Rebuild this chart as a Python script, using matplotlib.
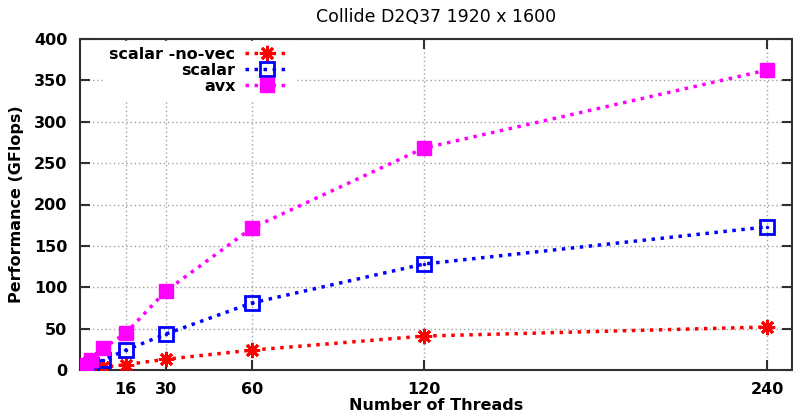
import numpy as np
import matplotlib
matplotlib.use('Agg')
import matplotlib.pyplot as plt

threads = [1, 2, 4, 8, 16, 30, 60, 120, 240]
novec = [0.4, 0.8, 1.7, 3.3, 6.5, 13, 24, 41, 52]
scalar = [1.5, 3, 6, 12, 24, 43.5, 81, 128, 173]
avx = [3, 6, 12, 26, 44.5, 95.5, 171.5, 268, 362.5]
xticks = [16, 30, 60, 120, 240]
yticks = [0, 50, 100, 150, 200, 250, 300, 350, 400]

fig = plt.figure(figsize=(7.93, 4.16), dpi=100)
ax = fig.add_axes([80 / 793, 1 - 370 / 416, 712 / 793, 331 / 416])

dots = (0, (1, 1.6))
ax.plot(threads, novec, color='red', ls=dots, lw=2.5, marker=(8, 2, 0),
        ms=11, mew=2, label='scalar -no-vec', zorder=3)
ax.plot(threads, scalar, color='blue', ls=dots, lw=2.5, marker='s', ms=10,
        mfc='none', mew=2, label='scalar', zorder=3)
ax.plot(threads, scalar, color='blue', ls='none', marker='.', ms=3, zorder=3)
ax.plot(threads, avx, color='magenta', ls=dots, lw=2.5, marker='s', ms=10,
        label='avx', zorder=3)

ax.set_xlim(0, 248.7)
ax.set_ylim(0, 400)
ax.set_xticks(xticks)
ax.set_yticks(yticks)
ax.tick_params(direction='in', length=7, width=1.5, top=True, right=True,
               labelsize=11.5, pad=9, colors='#303030', labelcolor='black')
for lab in ax.get_xticklabels() + ax.get_yticklabels():
    lab.set_fontweight('bold')
ax.grid(True, color='#a0a0a0', ls=(0, (1, 2)), lw=1)
for s in ax.spines.values():
    s.set_linewidth(1.5)
    s.set_color('#303030')

ax.set_xlabel('Number of Threads', fontsize=11.5, fontweight='bold', labelpad=0)
ax.set_ylabel('Performance (GFlops)', fontsize=11.5, fontweight='bold', labelpad=7)
ax.set_title('Collide D2Q37 1920 x 1600', fontsize=12.5, pad=12)

leg = ax.legend(loc='upper left', markerfirst=False, frameon=True,
                fontsize=11.5, handlelength=2.8, handletextpad=0.6,
                labelspacing=0.05, borderpad=0.4, borderaxespad=0.1,
                bbox_to_anchor=(0.03, 1.0))
leg.get_frame().set_edgecolor('white')
leg.get_frame().set_facecolor('white')
leg.get_frame().set_alpha(1)
leg.get_frame().set_boxstyle('square', pad=0)
for t in leg.get_texts():
    t.set_fontweight('bold')

fig.savefig('out.png', dpi=100)
